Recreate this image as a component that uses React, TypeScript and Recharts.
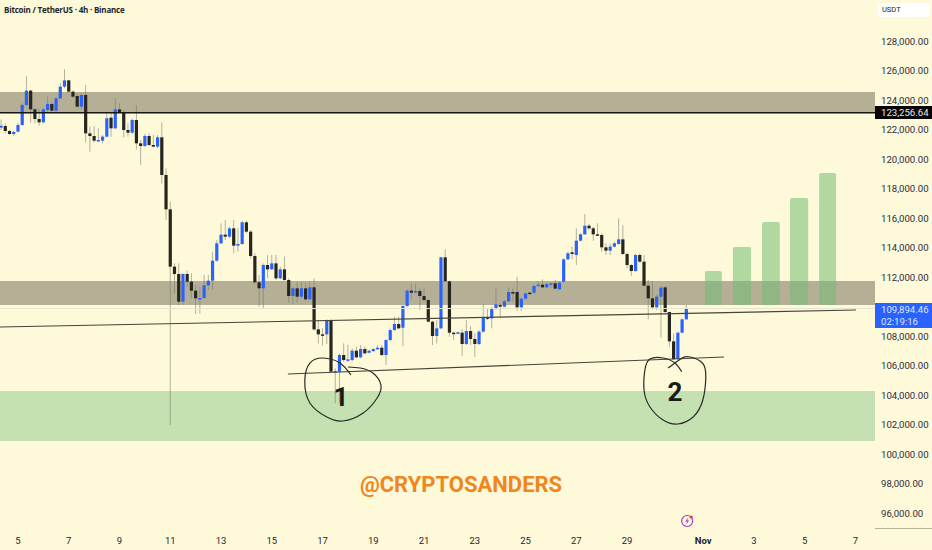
import React from "react";
import { ComposedChart, Bar, Line, XAxis, YAxis, ReferenceArea, ReferenceLine, ReferenceDot } from "recharts";

const FONT = "Roboto, 'Liberation Sans', sans-serif";
const BG = "#fef9d9";

const firstIndex = -4;
const opens = [
122158,122271,121932,121729,121887,122339,123695,124667,123401,122746,
122520,123356,123763,123311,124147,124938,125367,124599,124305,123582,
124373,121774,121593,121254,121277,121548,122836,122113,123401,123220,
122000,121819,122678,121096,120915,121593,120983,120870,121503,118949,
116621,112734,112237,110361,112237,111717,111107,110564,110610,111468,
111785,113141,114316,114904,114768,115333,114158,114271,115740,115107,
113457,111672,111265,112847,112553,112960,111943,112553,111830,110745,
111265,110700,111265,110519,111333,108485,108146,108146,109118,105570,
105615,106745,106406,106406,107039,106587,107152,106903,107016,107129,
107242,106745,107762,108440,108847,108598,110067,111107,110994,111084,
110745,110474,109005,108033,108553,113367,111740,108259,108214,108259,
107491,108372,107830,107491,108327,109299,109231,109864,110135,110022,
110384,111016,111016,109977,110564,110971,110971,111423,111514,111333,
111536,111604,111197,111717,113231,113706,113525,114497,114926,115514,
115333,114926,114881,114045,113819,114090,114271,114587,113593,112847,
112440,113525,113073,111446,110587,109977,110700,111333,109660,107672,
106474,108259,109163];
const closes = [
122294,121932,121729,121864,122339,123695,124667,123401,122746,122520,
123401,123763,123311,124147,124938,125367,124599,124260,123582,124373,
121774,121593,121277,121322,121548,122791,122113,123401,123220,122000,
121819,122678,121096,120915,121593,120983,120870,121503,118949,116621,
112734,112237,110361,112237,111717,111107,110587,110610,111468,111785,
113141,114316,114904,114768,115333,114158,114271,115740,115107,113457,
111672,111265,112847,112553,112960,111943,112553,111830,110745,111265,
110700,111265,110519,111333,108485,108146,108078,109118,105615,105660,
106745,106406,106451,107039,106587,107152,106858,107039,107152,107242,
106745,107762,108440,108847,108553,110067,111107,110971,111084,110745,
110474,109005,108033,108553,113367,111740,108259,108191,108282,107491,
108372,107830,107491,108327,109276,109254,109864,110180,110022,110384,
111016,110971,109977,110564,110926,110926,111423,111514,111333,111559,
111604,111243,111649,113231,113638,113593,114497,114926,115514,115333,
114926,114881,114045,113819,114090,114316,114587,113593,112847,112440,
113525,113073,111446,110587,109977,110700,111310,109660,107672,106474,
108259,109163,109894];
const highs = [122723,122452,122000,121955,122497,123808,125661,124712,123469,123401,123469,124260,123921,124215,125164,126113,125390,124667,124486,124486,125051,122226,122271,122113,121661,123130,123243,124147,123808,123356,122452,122791,123695,121322,121729,121774,121661,121661,122520,119401,117141,112960,112960,112282,112463,112282,111491,111378,112169,112169,113751,114542,115672,115898,115446,115898,115333,115853,115853,115220,113638,112169,112960,113525,113525,113525,112734,113412,111943,111333,111717,111717,111649,111717,111943,109118,108553,109163,109163,105841,106858,107536,107423,107197,107310,107423,107310,107084,107197,107423,107423,107807,108553,109344,109344,110135,111197,111604,111604,111265,111265,110519,109073,109118,113412,113909,111785,108327,108327,108485,109118,108711,108214,108440,110203,109909,110022,111265,110248,110474,111333,111265,112056,110655,110971,111039,111514,111762,111875,111649,111649,111830,111717,113299,113751,114090,115333,114994,116305,115627,115446,115672,114994,114316,114316,114429,116011,115559,113683,112892,113593,113638,113525,111830,111762,110813,111423,111423,109683,108214,108327,109231,110135];
const lows = [122000,121774,121661,121593,121819,122271,123582,122497,122452,122294,122452,123243,123243,123243,124079,124825,124531,124147,123537,123356,121141,120531,121141,121209,121096,121503,121548,122045,123175,121503,121548,121729,120689,119627,120825,120915,120825,120757,118384,115898,101999,110926,110135,110135,111378,110587,109525,109570,110564,111152,111152,113073,114271,114542,114655,113638,113751,114203,114994,113299,111604,110022,109909,111943,112508,111830,111875,111785,110293,110203,110293,110587,110406,110474,108395,107536,107378,107491,105547,103468,103468,106293,106293,106293,106519,106519,106790,106858,106948,107084,106677,106067,107649,108395,108485,107355,109977,110519,110926,109796,110361,108960,107423,107536,108485,111694,107988,107762,108169,106677,107423,107423,106632,107423,108259,109118,108553,109796,109299,109977,110338,110361,109751,109728,110474,110858,110881,111378,111288,111288,111288,111197,111152,111649,113186,113231,112847,114452,114881,115220,114497,114836,113751,113525,113525,114045,114203,113525,112621,112101,112395,113005,111378,109163,109841,109796,107920,109615,107310,106406,106406,108214,109118];

const priceTicks = [96000,98000,100000,102000,104000,106000,108000,112000,114000,116000,118000,120000,122000,124000,126000,128000];
const dayTickIndex = [0,12,24,36,48,60,72,84,96,108,120,132,144,162,174,186,198];
const dayTickLabels = ["5","7","9","11","13","15","17","19","21","23","25","27","29","Nov","3","5","7"];

const tanZones = [[123220,124576],[110135,111760]];
const greenZone = [100915,104300];
const projectionStart = [162.4,169,175.9,182.5,189.4];
const projectionEnd = [166.4,173.3,180.1,186.8,193.4];
const projectionTop = [112440,114067,115762,117389,119084];
const projectionBase = 110135;
const resistanceDrawn = 123170;
const lastPrice = 109894.46;
const upperTrend = [{ x: -4.25, y: 108643 }, { x: 198.1, y: 109796 }];
const lowerTrend = [{ x: 63.8, y: 105456 }, { x: 166.9, y: 106609 }];
const circleOne = [[78.7,105389],[76.1,106202],[72.1,106541],[69,106202],[67.8,105050],[69,103490],[73,102541],[76.8,102270],[81.6,102812],[84.9,103829],[85.8,104711],[83.9,105524],[80.9,105863],[78,105931]];
const circleTwo = [[156.9,105612],[155.3,106202],[152.5,106541],[149.4,106473],[148.2,105728],[148,104372],[149.4,103219],[152.5,102338],[156,102066],[159.6,102541],[161.9,103694],[162.6,105253],[161.8,106202],[158.9,106609],[157,106541],[155.3,106202],[153.7,105863]];

const candles = highs.map((high, k) => ({
  idx: firstIndex + k,
  open: opens[k],
  close: closes[k],
  high,
  low: lows[k],
}));
const toRows = (pts: number[][]) => pts.map(([idx, price]) => ({ idx, price }));

const BODY_W = 3.2;
const Candle = (props: any) => {
  const { x, y, width, height, payload } = props;
  const { open, close, high, low } = payload;
  const h = Math.abs(height);
  const toY = (p: number) => y + ((high - p) / (high - low)) * h;
  const up = close >= open;
  const top = toY(Math.max(open, close));
  const bottom = toY(Math.min(open, close));
  const cx = x + width / 2;
  return (
    <g>
      <line x1={cx} x2={cx} y1={y} y2={y + h} stroke="#77776c" strokeOpacity={0.55} strokeWidth={1} />
      <rect x={cx - BODY_W / 2} y={top} width={BODY_W} height={Math.max(bottom - top, 1.5)} fill={up ? "#2962ff" : "#26261f"} />
    </g>
  );
};

const Bolt = (props: any) => {
  const { cx, cy } = props;
  return (
    <g>
      <circle cx={cx} cy={cy} r={5.5} fill={BG} stroke="#9c3fc7" strokeWidth={1.2} />
      <path d={`M${cx + 1},${cy - 3.5} L${cx - 2},${cy + 0.5} L${cx},${cy + 0.5} L${cx - 1},${cy + 3.5} L${cx + 2},${cy - 0.5} L${cx},${cy - 0.5} Z`} fill="#9c3fc7" />
      <circle cx={cx + 4} cy={cy - 4} r={1.6} fill="#f23645" />
    </g>
  );
};

const XTick = (props: any) => {
  const { x, y, payload } = props;
  const label = dayTickLabels[dayTickIndex.indexOf(payload.value)];
  return (
    <text x={x} y={y + 8} textAnchor="middle" fontFamily={FONT} fontSize={9.5} fontWeight={label === "Nov" ? 700 : 400} fill="#1f2430">
      {label}
    </text>
  );
};

const abs = (s: React.CSSProperties): React.CSSProperties => ({ position: "absolute", fontFamily: FONT, whiteSpace: "nowrap", ...s });

export default function App() {
  return (
    <div style={{ position: "fixed", left: 0, top: 0, width: 932, height: 550, background: BG, overflow: "hidden" }}>
      <ComposedChart width={932} height={550} data={candles} margin={{ top: 0, right: 0, bottom: 0, left: 0 }}>
        <XAxis
          dataKey="idx"
          type="number"
          domain={[-4.255, 202.6]}
          allowDataOverflow
          ticks={dayTickIndex}
          interval={0}
          height={22}
          axisLine={false}
          tickLine={false}
          tick={<XTick />}
        />
        <YAxis
          orientation="right"
          type="number"
          domain={[95017, 130813]}
          allowDataOverflow
          ticks={priceTicks}
          interval={0}
          width={57}
          axisLine={false}
          tickLine={false}
          tickMargin={0}
          tickFormatter={(v: number) => v.toLocaleString("en-US", { minimumFractionDigits: 2, maximumFractionDigits: 2 })}
          tick={{ fontFamily: FONT, fontSize: 9.6, fill: "#2a2e39" }}
        />
        {tanZones.map(([a, b]) => (
          <ReferenceArea key={a} y1={a} y2={b} fill="#b4af95" fillOpacity={1} stroke="none" />
        ))}
        <ReferenceArea y1={greenZone[0]} y2={greenZone[1]} fill="#c6e1b1" fillOpacity={1} stroke="none" />
        {projectionStart.map((s, k) => (
          <ReferenceArea
            key={s}
            x1={s}
            x2={projectionEnd[k]}
            y1={projectionBase}
            y2={projectionTop[k]}
            fill="#72bd75"
            fillOpacity={0.55}
            stroke="none"
            radius={2}
          />
        ))}
        <ReferenceLine y={lastPrice} stroke="#e6e4cf" strokeWidth={1} />
        <ReferenceLine y={resistanceDrawn} stroke="#15150f" strokeWidth={1.6} />
        <ReferenceLine segment={upperTrend} stroke="#45453c" strokeWidth={1.1} />
        <ReferenceLine segment={lowerTrend} stroke="#45453c" strokeWidth={1.1} />
        <Bar dataKey={(r: any) => [r.low, r.high]} barSize={3} shape={<Candle />} isAnimationActive={false} />
        <Line data={toRows(circleOne)} dataKey="price" type="natural" stroke="#2b2b26" strokeWidth={1.2} dot={false} activeDot={false} isAnimationActive={false} />
        <Line data={toRows(circleTwo)} dataKey="price" type="natural" stroke="#2b2b26" strokeWidth={1.2} dot={false} activeDot={false} isAnimationActive={false} />
        <ReferenceDot x={158.2} y={95491} r={5} shape={<Bolt />} />
      </ComposedChart>

      <div style={abs({ left: 4, top: 4, fontSize: 8, fontWeight: 700, color: "#22231f", fontFamily: "'Open Sans', sans-serif", letterSpacing: -0.2 })}>
        Bitcoin / TetherUS · 4h · Binance
      </div>
      <div style={abs({ left: 878, top: 3, width: 52, height: 14, background: "#fff", borderRadius: 3, fontSize: 7.5, lineHeight: "14px", color: "#222", textIndent: 4 })}>USDT</div>
      <div style={abs({ left: 875, top: 106, width: 57, height: 13, background: "#050505", color: "#e8e8e8", fontSize: 9.6, lineHeight: "13px", textIndent: 6 })}>123,256.64</div>
      <div style={abs({ left: 875, top: 303, width: 57, height: 25, background: "#2962ff", color: "#dfe7ff", fontSize: 9.6, lineHeight: "12px", paddingTop: 1, boxSizing: "border-box", textIndent: 6 })}>
        <div>109,894.46</div>
        <div>02:19:16</div>
      </div>
      <div style={abs({ left: 875, top: 528, width: 57, height: 1, background: "#b5b29a" })} />
      <div style={abs({ left: 331, top: 382, width: 20, textAlign: "center", fontSize: 26, lineHeight: "30px", fontWeight: 700, color: "#1a1a16" })}>1</div>
      <div style={abs({ left: 665, top: 377, width: 20, textAlign: "center", fontSize: 26, lineHeight: "30px", fontWeight: 700, color: "#1a1a16" })}>2</div>
      <div style={abs({ left: 360, top: 470, fontSize: 22, lineHeight: "30px", fontWeight: 700, color: "#f0861c", fontFamily: "Roboto, sans-serif" })}>@CRYPTOSANDERS</div>
    </div>
  );
}
